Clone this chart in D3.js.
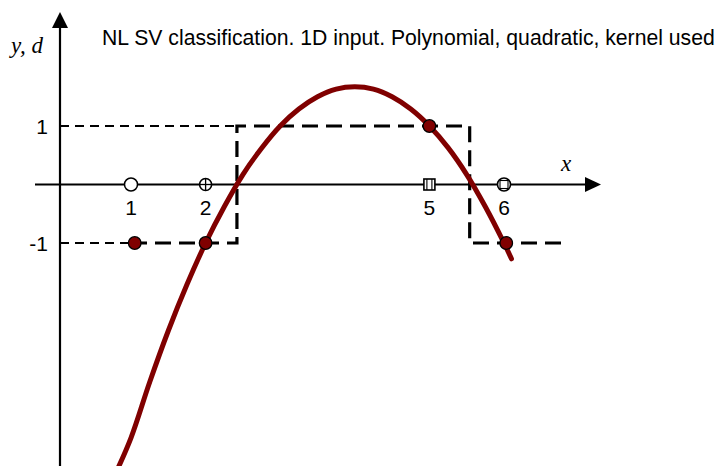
<!DOCTYPE html>
<html>
<head>
<meta charset="utf-8">
<script src="https://cdn.jsdelivr.net/npm/d3@7"></script>
<style>
  html, body { margin: 0; padding: 0; background: #fff; }
  svg { display: block; }
</style>
</head>
<body>
<script>
// Training inputs on the x axis and their desired outputs d
const inputs = [1, 2, 5, 6];
const desired = [-1, -1, 1, -1];
// where the desired-output dots sit along x
const desiredDotX = [1.05, 2, 5, 6.03];
// marker kind drawn on the x axis for each input
const inputMarkers = ["open", "circlePlus", "squarePlus", "circleSquare"];

// Tick labels
const xTickLabels = ["1", "2", "5", "6"];
const yTickValues = [1, -1];
const yTickLabels = ["1", "-1"];

// Desired output d(x) as a step function (dashed)
const stepX = [1, 2.42, 2.42, 5.54, 5.54, 6.8];
const stepY = [-1, -1, 1, 1, -1, -1];

// SVM decision function y(x) with quadratic polynomial kernel
const curveX = [0.8, 1.0, 1.25, 1.5, 1.75, 2.0, 2.25, 2.5, 2.75, 3.0, 3.25, 3.5, 3.75, 4.0,
                4.25, 4.5, 4.75, 5.0, 5.25, 5.5, 5.75, 6.0, 6.1];
const curveY = [-4.92, -4.33, -3.38, -2.5, -1.71, -1.0, -0.38, 0.17, 0.62, 1.0, 1.29, 1.5, 1.63, 1.67,
                1.63, 1.5, 1.29, 1.0, 0.63, 0.17, -0.38, -1.0, -1.27];

const title = "NL SV classification. 1D input. Polynomial, quadratic, kernel used";

const W = 720, H = 466;
const svg = d3.select("body").append("svg").attr("width", W).attr("height", H);

const x = d3.scaleLinear().domain([0, 6]).range([56.4, 504]);
const y = d3.scaleLinear().domain([-1, 1]).range([243, 126]);

const axisX0 = 60;          // pixel position of the vertical axis
const red = "#800000";

// guide lines from the y axis to the levels +1 / -1
svg.append("line")
  .attr("x1", axisX0).attr("x2", x(stepX[1])).attr("y1", y(1)).attr("y2", y(1))
  .attr("stroke", "#000").attr("stroke-width", 2).attr("stroke-dasharray", "9,6");
svg.append("line")
  .attr("x1", axisX0).attr("x2", x(stepX[0])).attr("y1", y(-1)).attr("y2", y(-1))
  .attr("stroke", "#000").attr("stroke-width", 2).attr("stroke-dasharray", "9,6");

// axes
svg.append("line")
  .attr("x1", 35).attr("x2", 590).attr("y1", y(0)).attr("y2", y(0))
  .attr("stroke", "#000").attr("stroke-width", 1.8);
svg.append("path")
  .attr("d", `M601,${y(0)} L585,${y(0) - 7.5} L585,${y(0) + 7.5} Z`)
  .attr("fill", "#000");
svg.append("line")
  .attr("x1", axisX0).attr("x2", axisX0).attr("y1", H).attr("y2", 22)
  .attr("stroke", "#000").attr("stroke-width", 2.2);
svg.append("path")
  .attr("d", `M${axisX0},12 L${axisX0 - 8},28 L${axisX0 + 8},28 Z`)
  .attr("fill", "#000");

// desired output step
const stepLine = d3.line().x(d => x(d[0])).y(d => y(d[1]));
svg.append("path")
  .attr("d", stepLine(stepX.map((v, i) => [v, stepY[i]])))
  .attr("fill", "none").attr("stroke", "#000").attr("stroke-width", 3.2)
  .attr("stroke-dasharray", "16,8");

// decision function
const curve = d3.line().x(d => x(d[0])).y(d => y(d[1])).curve(d3.curveCatmullRom);
svg.append("path")
  .attr("d", curve(curveX.map((v, i) => [v, curveY[i]])))
  .attr("fill", "none").attr("stroke", red).attr("stroke-width", 5)
  .attr("stroke-linecap", "round").attr("stroke-linejoin", "round");

// markers on the x axis
inputs.forEach((v, i) => {
  const cx = x(v), cy = y(0);
  const g = svg.append("g");
  const kind = inputMarkers[i];
  if (kind === "open") {
    g.append("circle").attr("cx", cx).attr("cy", cy).attr("r", 6.5)
      .attr("fill", "#fff").attr("stroke", "#000").attr("stroke-width", 1.5);
  } else if (kind === "circlePlus") {
    g.append("circle").attr("cx", cx).attr("cy", cy).attr("r", 6)
      .attr("fill", "#fff").attr("stroke", "#000").attr("stroke-width", 1.6);
    g.append("line").attr("x1", cx).attr("x2", cx).attr("y1", cy - 6).attr("y2", cy + 6)
      .attr("stroke", "#000").attr("stroke-width", 1.3);
    g.append("line").attr("x1", cx - 6).attr("x2", cx + 6).attr("y1", cy).attr("y2", cy)
      .attr("stroke", "#000").attr("stroke-width", 1.3);
  } else if (kind === "squarePlus") {
    g.append("rect").attr("x", cx - 5.5).attr("y", cy - 5.5).attr("width", 11).attr("height", 11)
      .attr("fill", "#fff").attr("stroke", "#000").attr("stroke-width", 1.6);
    g.append("line").attr("x1", cx - 2.5).attr("x2", cx - 2.5).attr("y1", cy - 5.5).attr("y2", cy + 5.5)
      .attr("stroke", "#000").attr("stroke-width", 1.1);
    g.append("line").attr("x1", cx + 2.5).attr("x2", cx + 2.5).attr("y1", cy - 5.5).attr("y2", cy + 5.5)
      .attr("stroke", "#000").attr("stroke-width", 1.1);
  } else {
    g.append("circle").attr("cx", cx).attr("cy", cy).attr("r", 6.5)
      .attr("fill", "#fff").attr("stroke", "#000").attr("stroke-width", 1.6);
    g.append("rect").attr("x", cx - 4).attr("y", cy - 4).attr("width", 8).attr("height", 8)
      .attr("fill", "none").attr("stroke", "#000").attr("stroke-width", 1.1);
  }
});

// desired outputs d as filled dots
desired.forEach((d, i) => {
  svg.append("circle")
    .attr("cx", x(desiredDotX[i])).attr("cy", y(d)).attr("r", 6.3)
    .attr("fill", red).attr("stroke", "#000").attr("stroke-width", 1.3);
});

// tick labels
const font = "'Liberation Sans', Arial, sans-serif";
svg.selectAll("text.xt").data(inputs).enter().append("text")
  .attr("class", "xt")
  .attr("x", d => x(d)).attr("y", 215)
  .attr("text-anchor", "middle")
  .attr("font-family", font).attr("font-size", 21)
  .text((d, i) => xTickLabels[i]);
svg.selectAll("text.yt").data(yTickValues).enter().append("text")
  .attr("class", "yt")
  .attr("x", 48).attr("y", d => y(d) + 7.5)
  .attr("text-anchor", "end")
  .attr("font-family", font).attr("font-size", 21)
  .text((d, i) => yTickLabels[i]);

// axis names
const serif = "'Liberation Serif', 'Times New Roman', serif";
svg.append("text").attr("x", 11).attr("y", 53)
  .attr("font-family", serif).attr("font-style", "italic").attr("font-size", 23)
  .text("y, d");
svg.append("text").attr("x", 561).attr("y", 171)
  .attr("font-family", serif).attr("font-style", "italic").attr("font-size", 23)
  .text("x");

// title, sized to span its line
const t = svg.append("text").attr("x", 102).attr("y", 45)
  .attr("font-family", font).attr("font-size", 17).text(title);
const w = t.node().getComputedTextLength();
t.attr("font-size", 17 * 613 / w);
</script>
</body>
</html>
